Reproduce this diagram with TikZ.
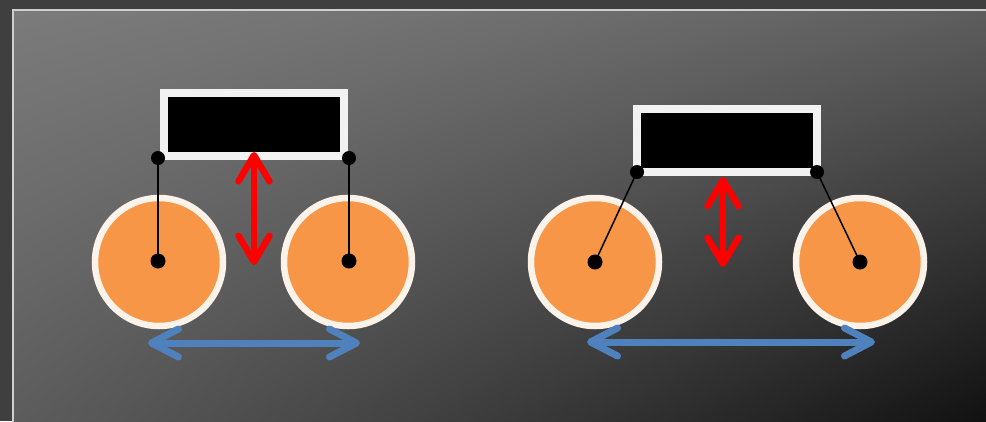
\documentclass[tikz,border=0pt]{standalone}
\usetikzlibrary{arrows.meta}
\definecolor{bgout}{HTML}{3F3F3F}
\definecolor{framec}{HTML}{CFCFCF}
\definecolor{wheelfill}{HTML}{F79646}
\definecolor{wheelrim}{HTML}{FBF3EA}
\definecolor{boxrim}{HTML}{F2F2F2}
\definecolor{arrred}{HTML}{FF0000}
\definecolor{arrblue}{HTML}{4F81BD}
\pgfdeclarefunctionalshading{panelshade}{\pgfpoint{0bp}{0bp}}{\pgfpoint{100bp}{100bp}}{}{
  exch 25 sub 50 div
  exch 75 exch sub 50 div
  2 copy mul 46 mul
  3 1 roll
  31 mul exch dup 1 exch sub 1 index mul -16 mul exch 30 mul add add add
  123 exch sub 255 div
  dup dup
}
\tikzset{
  body/.style={draw=boxrim, line width=8pt, fill=black, minimum width=180pt, minimum height=63pt, inner sep=0pt, outer sep=0pt},
  wheel/.style={circle, draw=wheelrim, line width=6.5pt, fill=wheelfill, minimum size=128pt, inner sep=0pt},
  pin/.style={circle, fill=black, minimum size=14pt, inner sep=0pt},
  hub/.style={circle, fill=black, minimum size=15pt, inner sep=0pt},
  rod/.style={draw=black, line width=1.5pt},
  lifttip/.tip={Straight Barb[length=26pt,width=31pt,round]},
  tracktip/.tip={Straight Barb[length=27pt,width=28pt,round]},
  liftarrow/.style={draw=arrred, line width=6.5pt, lifttip-lifttip},
  trackarrow/.style={draw=arrblue, line width=7pt, tracktip-tracktip},
}
\begin{document}
\begin{tikzpicture}[x=1pt,y=-1pt]
  \useasboundingbox (0,0) rectangle (986,421);
  \clip (0,0) rectangle (986,421);
  \fill[bgout] (0,0) rectangle (986,421);
  \shade[shading=panelshade] (13,10) rectangle (990,425);
  \draw[framec, line width=2pt] (13,440) -- (13,10) -- (1000,10);

  % left vehicle
  \node[wheel] (wL1) at (159,262) {};
  \node[wheel] (wL2) at (348,262) {};
  \node[body] (bL) at (254,124.5) {};
  \node[pin] (pL1) at (158,158) {};
  \node[pin] (pL2) at (349,158) {};
  \node[hub] (hL1) at (158,261) {};
  \node[hub] (hL2) at (349,261) {};
  \draw[rod] (pL1.center) -- (hL1.center);
  \draw[rod] (pL2.center) -- (hL2.center);
  \coordinate (rL1) at (254,265);
  \coordinate (rL2) at (254,152);
  \draw[liftarrow] (rL1) -- (rL2);
  \coordinate (tL1) at (148,343);
  \coordinate (tL2) at (360,343);
  \draw[trackarrow] (tL1) -- (tL2);

  % right vehicle
  \node[wheel] (wR1) at (595,262) {};
  \node[wheel] (wR2) at (860,262) {};
  \node[body] (bR) at (727,140) {};
  \node[pin] (pR1) at (637,172) {};
  \node[pin] (pR2) at (817,172) {};
  \node[hub] (hR1) at (595,262) {};
  \node[hub] (hR2) at (860,262) {};
  \draw[rod] (pR1.center) -- (hR1.center);
  \draw[rod] (pR2.center) -- (hR2.center);
  \coordinate (rR1) at (723,267);
  \coordinate (rR2) at (723,177);
  \draw[liftarrow] (rR1) -- (rR2);
  \coordinate (tR1) at (587,342);
  \coordinate (tR2) at (875,342);
  \draw[trackarrow] (tR1) -- (tR2);
\end{tikzpicture}
\end{document}
